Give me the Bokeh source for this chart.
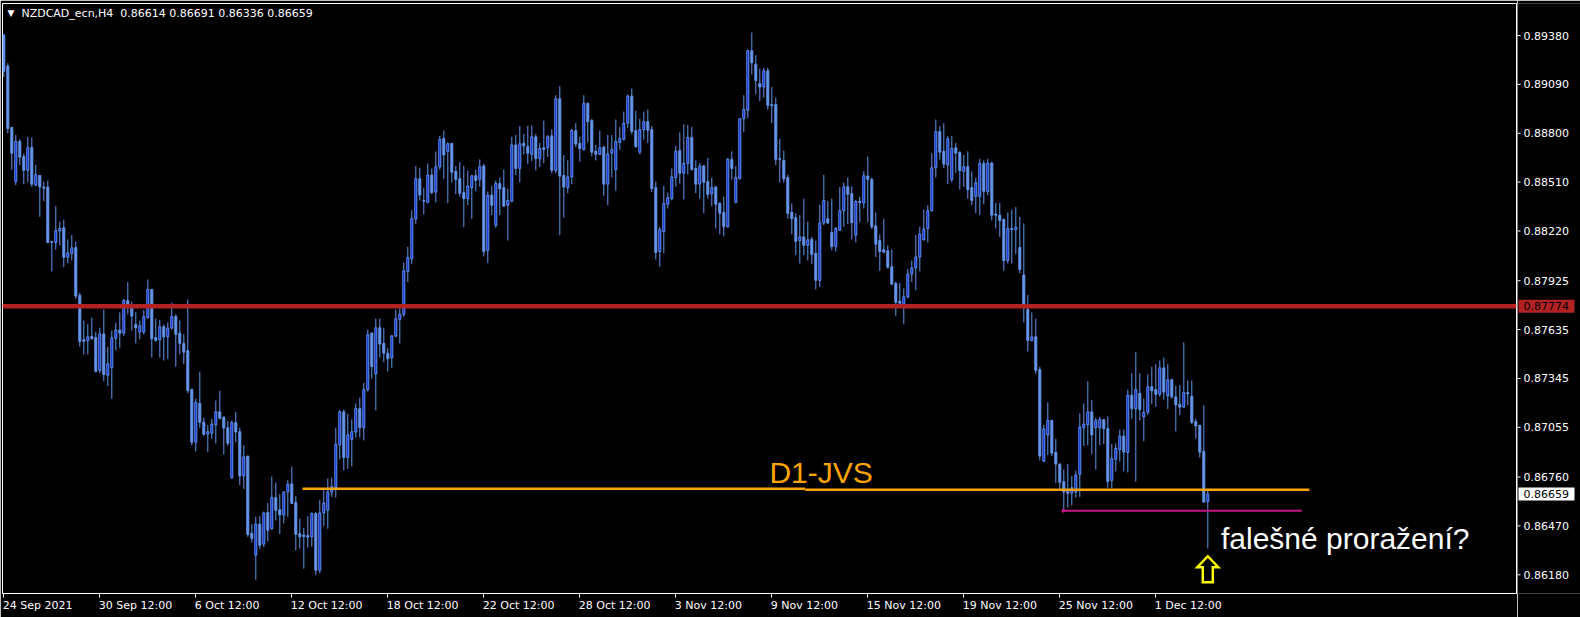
from bokeh.plotting import figure
from bokeh.layouts import row
from bokeh.models import Range1d, FixedTicker, Label, ColumnDataSource, Span, LinearAxis
from bokeh.core.properties import value
from bokeh.embed import file_html
from bokeh.resources import INLINE

symbol = "NZDCAD_ecn,H4"

opens = [0.89383,0.89199,0.88834,0.88515,0.88751,0.88662,0.88580,0.88716,0.88492,0.88550,
0.88481,0.88481,0.88157,0.88152,0.88220,0.88239,0.88064,0.88088,0.88122,0.87838,
0.87575,0.87570,0.87594,0.87588,0.87393,0.87609,0.87365,0.87410,0.87583,0.87633,
0.87614,0.87808,0.87780,0.87665,0.87620,0.87620,0.87706,0.87873,0.87588,0.87575,
0.87652,0.87592,0.87644,0.87713,0.87614,0.87553,0.87510,0.87279,0.86967,0.87197,
0.87085,0.87014,0.87020,0.87070,0.87147,0.87115,0.87053,0.86755,0.87083,0.87029,
0.86766,0.86885,0.86426,0.86297,0.86481,0.86362,0.86550,0.86453,0.86638,0.86567,
0.86535,0.86671,0.86720,0.86608,0.86424,0.86416,0.86413,0.86405,0.86543,0.86207,
0.86547,0.86563,0.86671,0.86697,0.86951,0.87147,0.86876,0.86984,0.87027,0.87166,
0.87053,0.87279,0.87614,0.87372,0.87646,0.87553,0.87495,0.87467,0.87596,0.87696,
0.87726,0.87980,0.88055,0.88291,0.88530,0.88401,0.88390,0.88552,0.88451,0.88600,
0.88768,0.88693,0.88740,0.88574,0.88530,0.88448,0.88412,0.88477,0.88548,0.88526,
0.88606,0.88105,0.88433,0.88254,0.88502,0.88477,0.88373,0.88397,0.88731,0.88591,
0.88740,0.88721,0.88675,0.88779,0.88649,0.88714,0.88714,0.88785,0.88580,0.89005,
0.88550,0.88477,0.88541,0.88816,0.88740,0.88703,0.88977,0.88875,0.88693,0.88675,
0.88718,0.88498,0.88682,0.88584,0.88746,0.88764,0.88860,0.89020,0.88816,0.88688,
0.88822,0.88869,0.88822,0.88477,0.88098,0.88217,0.88379,0.88412,0.88537,0.88697,
0.88563,0.88621,0.88775,0.88591,0.88498,0.88606,0.88513,0.88440,0.88481,0.88384,
0.88330,0.88245,0.88645,0.88390,0.88530,0.88886,0.88936,0.89290,0.89210,0.89095,
0.89074,0.89171,0.88970,0.88970,0.88649,0.88639,0.88537,0.88330,0.88299,0.88163,
0.88185,0.88135,0.88170,0.88088,0.87927,0.88267,0.88293,0.88211,0.88127,0.88224,
0.88340,0.88483,0.88442,0.88196,0.88397,0.88386,0.88546,0.88526,0.88250,0.88163,
0.88109,0.88103,0.88008,0.87909,0.87804,0.87786,0.87830,0.87965,0.88001,0.88066,
0.88168,0.88235,0.88340,0.88595,0.88811,0.88693,0.88613,0.88526,0.88714,0.88686,
0.88574,0.88602,0.88477,0.88425,0.88425,0.88621,0.88455,0.88623,0.88321,0.88314,
0.88289,0.88045,0.88235,0.88228,0.88122,0.87959,0.87754,0.87570,0.87592,0.87398,
0.86854,0.87010,0.87096,0.86906,0.86837,0.86733,0.86675,0.86664,0.86671,0.86776,
0.87053,0.87070,0.87147,0.87053,0.87053,0.87100,0.87048,0.86740,0.86865,0.86923,
0.87003,0.86906,0.87246,0.87166,0.87257,0.87117,0.87145,0.87296,0.87279,0.87251,
0.87408,0.87242,0.87337,0.87236,0.87192,0.87175,0.87261,0.87240,0.87089,0.87068,
0.86913,0.86614]

highs = [0.89387,0.89216,0.88838,0.88790,0.88764,0.88680,0.88779,0.88775,0.88613,0.88550,
0.88513,0.88520,0.88157,0.88368,0.88276,0.88286,0.88170,0.88196,0.88157,0.87855,
0.87689,0.87667,0.87706,0.87622,0.87646,0.87754,0.87534,0.87629,0.87676,0.87737,
0.87817,0.87916,0.87801,0.87739,0.87689,0.87752,0.87933,0.87873,0.87700,0.87693,
0.87665,0.87678,0.87795,0.87726,0.87689,0.87607,0.87814,0.87285,0.87225,0.87385,
0.87112,0.87068,0.87106,0.87214,0.87272,0.87121,0.87092,0.87096,0.87147,0.87053,
0.86949,0.86885,0.86481,0.86524,0.86528,0.86556,0.86606,0.86763,0.86727,0.86660,
0.86675,0.86740,0.86822,0.86647,0.86513,0.86459,0.86528,0.86550,0.86552,0.86625,
0.86681,0.86751,0.86757,0.87053,0.87156,0.87160,0.87134,0.87102,0.87197,0.87231,
0.87318,0.87635,0.87620,0.87700,0.87700,0.87646,0.87527,0.87603,0.87754,0.87786,
0.88032,0.88127,0.88343,0.88606,0.88595,0.88477,0.88621,0.88591,0.88693,0.88785,
0.88816,0.88746,0.88740,0.88606,0.88628,0.88606,0.88578,0.88552,0.88584,0.88645,
0.88617,0.88455,0.88487,0.88520,0.88537,0.88584,0.88472,0.88779,0.88790,0.88843,
0.88796,0.88843,0.88847,0.88796,0.88744,0.88875,0.88790,0.88822,0.89026,0.89080,
0.88671,0.88639,0.88826,0.88860,0.88779,0.89026,0.88983,0.88886,0.88731,0.88816,
0.88725,0.88790,0.88790,0.88882,0.88838,0.88929,0.89031,0.89065,0.88933,0.88886,
0.88929,0.88940,0.88843,0.88513,0.88243,0.88487,0.88448,0.88591,0.88725,0.88805,
0.88854,0.88849,0.88838,0.88639,0.88623,0.88611,0.88654,0.88537,0.88487,0.88390,
0.88423,0.88654,0.88693,0.88606,0.88890,0.89026,0.89296,0.89398,0.89264,0.89184,
0.89188,0.89188,0.89074,0.89011,0.88768,0.88697,0.88554,0.88384,0.88325,0.88314,
0.88412,0.88276,0.88185,0.88163,0.88375,0.88554,0.88397,0.88412,0.88243,0.88481,
0.88507,0.88537,0.88485,0.88405,0.88423,0.88574,0.88662,0.88537,0.88330,0.88200,
0.88293,0.88135,0.88109,0.87920,0.87912,0.87879,0.87995,0.88045,0.88196,0.88245,
0.88347,0.88373,0.88682,0.88882,0.88843,0.88860,0.88783,0.88783,0.88742,0.88693,
0.88671,0.88693,0.88574,0.88537,0.88649,0.88639,0.88649,0.88632,0.88386,0.88386,
0.88293,0.88330,0.88347,0.88362,0.88304,0.88265,0.87840,0.87737,0.87700,0.87415,
0.87070,0.87203,0.87100,0.86988,0.86841,0.86804,0.86837,0.86766,0.86798,0.87138,
0.87197,0.87328,0.87218,0.87112,0.87117,0.87104,0.87121,0.86956,0.86960,0.87042,
0.87042,0.87279,0.87376,0.87501,0.87376,0.87225,0.87369,0.87415,0.87430,0.87451,
0.87469,0.87430,0.87344,0.87300,0.87305,0.87559,0.87333,0.87333,0.87106,0.87068,
0.87186,0.86691]

lows = [0.89134,0.88800,0.88584,0.88492,0.88611,0.88498,0.88509,0.88483,0.88487,0.88304,
0.88397,0.88148,0.87980,0.88109,0.88135,0.88006,0.88029,0.88045,0.87819,0.87534,
0.87488,0.87488,0.87575,0.87380,0.87376,0.87328,0.87300,0.87225,0.87512,0.87527,
0.87596,0.87726,0.87629,0.87553,0.87577,0.87607,0.87700,0.87469,0.87564,0.87469,
0.87451,0.87462,0.87635,0.87415,0.87488,0.87430,0.87257,0.86949,0.86913,0.87053,
0.87005,0.86908,0.86988,0.86960,0.87102,0.86895,0.86945,0.86751,0.86967,0.86712,
0.86690,0.86405,0.86372,0.86151,0.86334,0.86344,0.86377,0.86448,0.86502,0.86422,
0.86485,0.86524,0.86599,0.86325,0.86336,0.86216,0.86340,0.86347,0.86179,0.86190,
0.86470,0.86453,0.86642,0.86638,0.86865,0.86800,0.86809,0.86824,0.86995,0.86995,
0.86977,0.87268,0.87344,0.87156,0.87469,0.87441,0.87387,0.87408,0.87592,0.87553,
0.87711,0.87916,0.88023,0.88261,0.88401,0.88319,0.88384,0.88438,0.88390,0.88584,
0.88530,0.88386,0.88509,0.88438,0.88423,0.88243,0.88373,0.88293,0.88455,0.88483,
0.88070,0.88029,0.88314,0.88239,0.88314,0.88362,0.88163,0.88390,0.88552,0.88509,
0.88675,0.88617,0.88634,0.88580,0.88600,0.88623,0.88660,0.88563,0.88563,0.88196,
0.88299,0.88444,0.88498,0.88718,0.88632,0.88697,0.88746,0.88664,0.88639,0.88671,
0.88427,0.88373,0.88537,0.88459,0.88703,0.88757,0.88832,0.88794,0.88714,0.88675,
0.88762,0.88742,0.88451,0.88051,0.88008,0.88088,0.88353,0.88401,0.88483,0.88502,
0.88407,0.88556,0.88580,0.88444,0.88412,0.88325,0.88412,0.88368,0.88235,0.88200,
0.88189,0.88239,0.88524,0.88384,0.88526,0.88807,0.88890,0.89149,0.89031,0.88990,
0.89011,0.88940,0.88860,0.88611,0.88509,0.88507,0.88293,0.88200,0.88077,0.88027,
0.88077,0.88045,0.88023,0.87873,0.87888,0.88254,0.88261,0.88105,0.88098,0.88222,
0.88245,0.88261,0.88170,0.88152,0.88271,0.88353,0.88271,0.88232,0.88066,0.87984,
0.88088,0.87995,0.87899,0.87717,0.87765,0.87667,0.87819,0.87916,0.87868,0.87980,
0.88163,0.88152,0.88336,0.88537,0.88643,0.88595,0.88498,0.88509,0.88567,0.88466,
0.88481,0.88412,0.88373,0.88325,0.88314,0.88379,0.88433,0.88282,0.88235,0.88185,
0.87984,0.88027,0.88027,0.88083,0.87969,0.87678,0.87505,0.87564,0.87372,0.86858,
0.86848,0.86891,0.86885,0.86725,0.86679,0.86567,0.86578,0.86593,0.86638,0.86642,
0.86945,0.86949,0.86895,0.86804,0.86949,0.86956,0.86697,0.86693,0.86794,0.86854,
0.86794,0.86787,0.87106,0.86733,0.87096,0.86973,0.87128,0.87192,0.87177,0.87236,
0.87220,0.87164,0.87225,0.87031,0.87128,0.87171,0.87186,0.87074,0.86988,0.86876,
0.86610,0.86336]

closes = [0.89167,0.88828,0.88682,0.88751,0.88658,0.88580,0.88714,0.88498,0.88554,0.88481,
0.88474,0.88152,0.88152,0.88222,0.88235,0.88064,0.88090,0.88120,0.87834,0.87564,
0.87566,0.87592,0.87581,0.87387,0.87609,0.87369,0.87432,0.87585,0.87633,0.87614,
0.87808,0.87780,0.87715,0.87646,0.87657,0.87711,0.87873,0.87581,0.87570,0.87652,
0.87592,0.87644,0.87713,0.87607,0.87553,0.87501,0.87274,0.86967,0.87203,0.87085,
0.87014,0.87029,0.87074,0.87147,0.87108,0.87051,0.86960,0.87083,0.87027,0.86766,
0.86880,0.86420,0.86396,0.86481,0.86355,0.86547,0.86444,0.86638,0.86563,0.86535,
0.86671,0.86718,0.86604,0.86420,0.86405,0.86407,0.86403,0.86543,0.86207,0.86547,
0.86606,0.86671,0.86703,0.86954,0.87147,0.86876,0.87010,0.87029,0.87166,0.87053,
0.87279,0.87605,0.87415,0.87646,0.87549,0.87495,0.87462,0.87598,0.87700,0.87726,
0.87984,0.88062,0.88293,0.88530,0.88433,0.88397,0.88552,0.88448,0.88600,0.88764,
0.88671,0.88738,0.88569,0.88526,0.88444,0.88412,0.88487,0.88548,0.88520,0.88602,
0.88098,0.88433,0.88373,0.88502,0.88470,0.88368,0.88401,0.88731,0.88591,0.88738,
0.88725,0.88682,0.88779,0.88649,0.88710,0.88703,0.88779,0.88580,0.89005,0.88546,
0.88481,0.88541,0.88816,0.88736,0.88710,0.88977,0.88869,0.88688,0.88675,0.88714,
0.88498,0.88677,0.88703,0.88751,0.88768,0.88860,0.89020,0.88811,0.88721,0.88822,
0.88869,0.88818,0.88472,0.88092,0.88228,0.88384,0.88418,0.88541,0.88693,0.88563,
0.88621,0.88775,0.88584,0.88498,0.88606,0.88509,0.88438,0.88477,0.88379,0.88325,
0.88245,0.88645,0.88591,0.88537,0.88886,0.88940,0.89290,0.89218,0.89113,0.89074,
0.89171,0.88966,0.88964,0.88645,0.88645,0.88530,0.88325,0.88293,0.88159,0.88185,
0.88135,0.88168,0.88081,0.87927,0.88267,0.88401,0.88267,0.88127,0.88235,0.88340,
0.88483,0.88438,0.88269,0.88395,0.88388,0.88548,0.88526,0.88245,0.88142,0.88098,
0.88094,0.88006,0.87905,0.87797,0.87791,0.87830,0.87965,0.88001,0.88066,0.88202,
0.88232,0.88340,0.88595,0.88811,0.88688,0.88617,0.88768,0.88710,0.88682,0.88578,
0.88602,0.88466,0.88401,0.88507,0.88621,0.88455,0.88623,0.88314,0.88314,0.88282,
0.88045,0.88235,0.88228,0.88243,0.87991,0.87786,0.87570,0.87592,0.87393,0.86885,
0.87046,0.87096,0.86902,0.86837,0.86729,0.86671,0.86664,0.86697,0.86772,0.87057,
0.87074,0.87147,0.87010,0.87096,0.87102,0.87046,0.86733,0.86869,0.86930,0.87003,
0.86908,0.87246,0.87166,0.87279,0.87160,0.87143,0.87296,0.87272,0.87251,0.87408,
0.87264,0.87337,0.87236,0.87188,0.87175,0.87261,0.87253,0.87085,0.87063,0.86908,
0.86611,0.86659]

tick_bars = [0, 24, 48, 72, 96, 120, 144, 168, 192, 216, 240, 264, 288]
tick_labels = ["24 Sep 2021", "30 Sep 12:00", "6 Oct 12:00", "12 Oct 12:00", "18 Oct 12:00",
               "22 Oct 12:00", "28 Oct 12:00", "3 Nov 12:00", "9 Nov 12:00", "15 Nov 12:00",
               "19 Nov 12:00", "25 Nov 12:00", "1 Dec 12:00"]
price_ticks = [0.86180, 0.86470, 0.86760, 0.87055, 0.87345, 0.87635,
               0.87925, 0.88220, 0.88510, 0.88800, 0.89090, 0.89380]

resistance_level = 0.87774
d1_x0 = [74.7, 200.4]
d1_x1 = [200.4, 326.4]
d1_y = [0.86690, 0.86684]
d1_text = "D1-JVS"
fb_x0, fb_x1, fb_y = 264.9, 324.5, 0.86560
fb_text = "falešné proražení?"
arrow_bar, arrow_tip = 301, 0.86290

BULL_FILL = "#0a1fd8"
CANDLE = "#6495ED"
RED = "#B22222"
FONT = "DejaVu Sans"

H = 617
MAIN_W, SCALE_W = 1517, 63
LEFT, TOP, RIGHT, BOTTOM = 2, 3, 1, 24
x_range = Range1d(-0.325, 378.175)
y_range = Range1d(0.86069, 0.89570)
px_per_bar = (MAIN_W - LEFT - RIGHT) / (x_range.end - x_range.start)
px_per_price = (H - TOP - BOTTOM) / (y_range.end - y_range.start)

idx = list(range(len(closes)))
bull = [i for i in idx if closes[i] >= opens[i]]
bear = [i for i in idx if closes[i] < opens[i]]

def body_src(ids):
    return ColumnDataSource(dict(
        x=ids,
        top=[max(opens[i], closes[i]) for i in ids],
        bottom=[min(opens[i], closes[i]) for i in ids]))

p = figure(width=MAIN_W, height=H, x_range=x_range, y_range=y_range,
           output_backend="svg", toolbar_location=None, y_axis_location=None,
           min_border_left=LEFT, min_border_top=TOP, min_border_right=RIGHT, min_border_bottom=BOTTOM)
p.background_fill_color = "black"
p.border_fill_color = "black"
p.outline_line_color = "white"
p.outline_line_width = 1
p.xgrid.visible = False
p.ygrid.visible = False

# bottom axis: tick marks only
xa = p.xaxis[0]
xa.ticker = FixedTicker(ticks=tick_bars)
xa.major_label_overrides = {t: "" for t in tick_bars}
xa.major_label_text_font_size = "0px"
xa.major_label_standoff = 0
xa.major_tick_in = 0
xa.major_tick_out = 4
xa.minor_tick_out = 0
xa.minor_tick_in = 0
xa.axis_line_color = "white"
xa.major_tick_line_color = "white"

# second bottom axis: the date texts, each starting at its tick
CW = {" ": 0.318, ":": 0.337, "S": 0.635, "e": 0.615, "p": 0.635, "O": 0.787, "c": 0.550,
      "t": 0.392, "N": 0.748, "o": 0.612, "v": 0.592, "D": 0.770}
def text_px(s):
    return sum(CW.get(ch, 0.636) for ch in s) * 11
label_pos = [round(t + (text_px(s) / 2 - 1) / px_per_bar, 2) for t, s in zip(tick_bars, tick_labels)]
xb = LinearAxis(ticker=FixedTicker(ticks=label_pos),
                major_label_overrides={c: s for c, s in zip(label_pos, tick_labels)})
xb.major_tick_in = 0
xb.major_tick_out = 0
xb.minor_tick_in = 0
xb.minor_tick_out = 0
xb.axis_line_color = None
xb.major_label_standoff = 1
xb.major_label_text_color = "white"
xb.major_label_text_font = FONT
xb.major_label_text_font_size = "11px"
p.add_layout(xb, "below")

p.segment(x0=idx, y0=highs, x1=idx, y1=lows, line_color=CANDLE, line_width=1)
p.vbar(x="x", width=0.5, top="top", bottom="bottom", source=body_src(bear),
       fill_color=CANDLE, line_color=CANDLE, line_width=1)
p.vbar(x="x", width=0.5, top="top", bottom="bottom", source=body_src(bull),
       fill_color=BULL_FILL, line_color=CANDLE, line_width=1)

p.add_layout(Span(location=resistance_level, dimension="width", line_color=RED, line_width=4.5))
p.segment(x0=d1_x0, y0=d1_y, x1=d1_x1, y1=d1_y, line_color="#FFA500", line_width=2.5)
p.segment(x0=[fb_x0], y0=[fb_y], x1=[fb_x1], y1=[fb_y], line_color="#C71585", line_width=2)
p.scatter(x=[fb_x0], y=[fb_y], size=3, color="#C71585")

p.add_layout(Label(x=191.4, y=0.86787, text=d1_text, text_color="#FFA500",
                   text_font="Liberation Sans", text_font_size="30px", text_baseline="alphabetic"))
p.add_layout(Label(x=304.3, y=0.86394, text=fb_text, text_color="white",
                   text_font="Liberation Sans", text_font_size="30px", text_baseline="alphabetic"))

# hollow up arrow under the last candle (shape in screen pixels around its tip)
shape_px = [(0, 0), (10.5, 11), (5, 11), (5, 26), (-5, 26), (-5, 11), (-10.5, 11)]
p.patch(x=[arrow_bar + dx / px_per_bar for dx, dy in shape_px],
        y=[arrow_tip - dy / px_per_price for dx, dy in shape_px],
        fill_color="black", line_color="#FFFF00", line_width=2.5, line_join="miter")

title = f"{symbol}\u00a0\u00a0{opens[-1]:.5f} {highs[-1]:.5f} {lows[-1]:.5f} {closes[-1]:.5f}"
p.add_layout(Label(x=4.4, y=0.89511, text=title, text_color="white", text_font=FONT,
                   text_font_size="11px", text_baseline="middle"))
p.add_layout(Label(x=1.8, y=0.89511, text="\u25bc", text_color="white", text_font=FONT,
                   text_font_size="9px", text_baseline="middle", text_align="center"))

# price scale: a narrow panel sharing the price range (ticks, tick texts, price boxes)
scale = figure(width=SCALE_W, height=H, x_range=Range1d(0, SCALE_W), y_range=y_range,
               output_backend="svg", toolbar_location=None,
               x_axis_location=None, y_axis_location=None,
               min_border_left=0, min_border_right=0, min_border_top=TOP, min_border_bottom=BOTTOM)
scale.grid.visible = False
scale.outline_line_color = None
scale.background_fill_color = "black"
scale.border_fill_color = "black"
scale.segment(x0=[0] * len(price_ticks), y0=price_ticks, x1=[3] * len(price_ticks), y1=price_ticks,
              line_color="white", line_width=1)
scale.text(x=[6] * len(price_ticks), y=price_ticks, text=[f"{v:.5f}" for v in price_ticks],
           text_color="white", text_font=value(FONT), text_font_size=value("11px"),
           text_baseline="middle")
box_levels = [resistance_level, closes[-1]]
scale.rect(x=[29] * 2, y=box_levels, width=[56] * 2, height=[13] * 2, height_units="screen",
           fill_color=[RED, "white"], line_color=None)
scale.text(x=[6] * 2, y=box_levels, text=[f"{v:.5f}" for v in box_levels], text_color="black",
           text_font=value(FONT), text_font_size=value("11px"), text_baseline="middle")

layout = row(p, scale, spacing=0)
open("out.html", "w").write(file_html(layout, INLINE))
